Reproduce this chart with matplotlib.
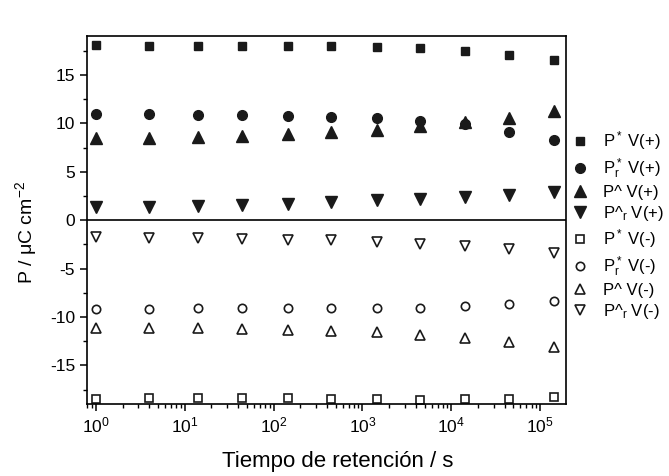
import matplotlib
matplotlib.use('Agg')
import matplotlib.pyplot as plt
from matplotlib.ticker import MultipleLocator, LogLocator

plt.rcParams['font.family'] = ['Liberation Sans', 'DejaVu Sans']
plt.rcParams['mathtext.fontset'] = 'custom'
plt.rcParams['mathtext.rm'] = 'Liberation Sans'
plt.rcParams['mathtext.it'] = 'Liberation Sans'
plt.rcParams['axes.unicode_minus'] = False

# retention time (s)
t = [1, 4, 14, 44, 144, 440, 1440, 4440, 14400, 44400, 144000]

# positive voltage series
p_star_pos = [18.1, 18.0, 18.0, 18.0, 18.0, 18.0, 17.9, 17.8, 17.5, 17.1, 16.5]
pr_star_pos = [11.0, 10.95, 10.9, 10.85, 10.8, 10.7, 10.5, 10.2, 9.9, 9.1, 8.3]
p_hat_pos = [8.5, 8.5, 8.6, 8.7, 8.9, 9.1, 9.3, 9.7, 10.1, 10.6, 11.3]
pr_hat_pos = [1.4, 1.4, 1.5, 1.6, 1.7, 1.85, 2.05, 2.2, 2.4, 2.6, 2.9]

# negative voltage series
p_star_neg = [-18.5, -18.4, -18.4, -18.4, -18.4, -18.5, -18.5, -18.6, -18.5, -18.5, -18.3]
pr_star_neg = [-9.2, -9.2, -9.1, -9.1, -9.1, -9.1, -9.1, -9.05, -8.9, -8.7, -8.4]
p_hat_neg = [-11.1, -11.1, -11.1, -11.2, -11.3, -11.4, -11.6, -11.9, -12.2, -12.6, -13.1]
pr_hat_neg = [-1.75, -1.8, -1.8, -1.9, -2.0, -2.1, -2.3, -2.5, -2.7, -3.0, -3.4]

labels = ['P$^*$ V(+)', 'P$^*_r$ V(+)', 'P^ V(+)', 'P^$_r$ V(+)',
          'P$^*$ V(-)', 'P$^*_r$ V(-)', 'P^ V(-)', 'P^$_r$ V(-)']

fig = plt.figure(figsize=(6.69, 4.76), dpi=100)
ax = fig.add_axes([0.130, 0.151, 0.716, 0.773])

ax.axhline(0, color='black', lw=1.2, zorder=1)

k = '#1a1a1a'
ax.plot(t, p_star_pos, 's', color=k, ms=6, label=labels[0])
ax.plot(t, pr_star_pos, 'o', color=k, ms=7, label=labels[1])
ax.plot(t, p_hat_pos, '^', color=k, ms=8, label=labels[2])
ax.plot(t, pr_hat_pos, 'v', color=k, ms=8, label=labels[3])

ax.plot(t, p_star_neg, 's', mfc='white', mec=k, mew=1.2, ms=6, label=labels[4])
ax.plot(t, pr_star_neg, 'o', mfc='white', mec=k, mew=1.2, ms=6, label=labels[5])
ax.plot(t, p_hat_neg, '^', mfc='white', mec=k, mew=1.2, ms=7, label=labels[6])
ax.plot(t, pr_hat_neg, 'v', mfc='white', mec=k, mew=1.2, ms=7, label=labels[7])

ax.set_xscale('log')
ax.set_xlim(10 ** -0.1, 10 ** 5.29)
ax.set_ylim(-19, 19)
ax.yaxis.set_major_locator(MultipleLocator(5))
ax.yaxis.set_minor_locator(MultipleLocator(2.5))
ax.xaxis.set_major_locator(LogLocator(base=10, numticks=10))
ax.xaxis.set_minor_locator(LogLocator(base=10, subs=range(2, 10), numticks=20))

ax.tick_params(which='major', direction='out', length=5, width=1.1, labelsize=12.5)
ax.tick_params(which='minor', direction='out', length=3, width=1.0)
for s in ax.spines.values():
    s.set_linewidth(1.2)

ax.set_xlabel('Tiempo de retención / s', fontsize=16)
ax.xaxis.set_label_coords(0.524, -0.128)
ax.set_ylabel('P / μC cm$^{-2}$', fontsize=14)
ax.yaxis.set_label_coords(-0.100, 0.467)

ax.legend(loc='upper left', bbox_to_anchor=(1.0, 0.765), frameon=False,
          fontsize=12, handlelength=0.9, handletextpad=0.9,
          labelspacing=0.25, borderaxespad=0.0)

fig.savefig('out.png', dpi=100)
